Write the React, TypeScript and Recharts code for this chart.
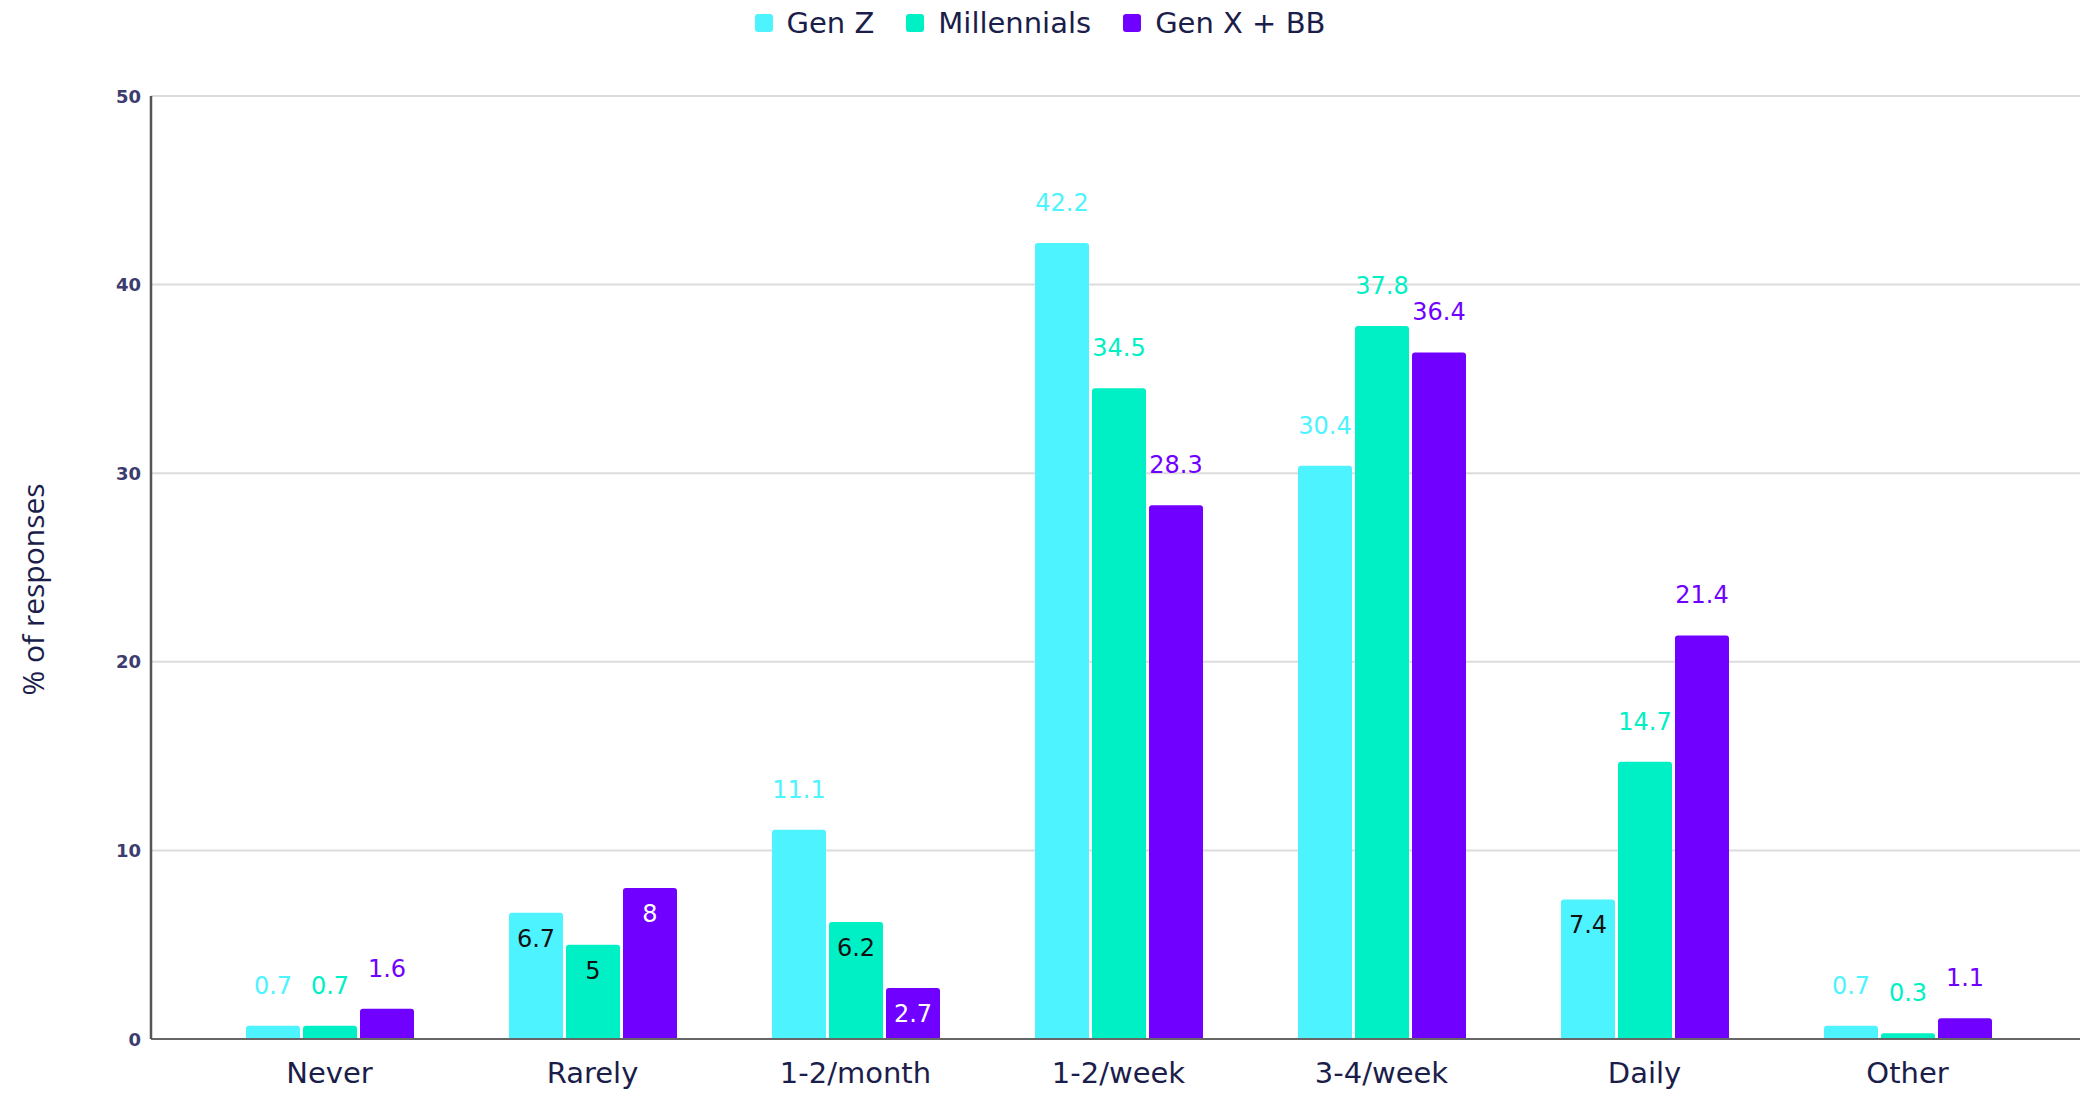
import React from 'react';
import { BarChart, Bar, XAxis, YAxis, CartesianGrid, Legend, LabelList } from 'recharts';

// Frequency categories along the x axis
const categories = ['Never', 'Rarely', '1-2/month', '1-2/week', '3-4/week', 'Daily', 'Other'];

// Share of responses (%) per generation
const genZ = [0.7, 6.7, 11.1, 42.2, 30.4, 7.4, 0.7];
const millennials = [0.7, 5, 6.2, 34.5, 37.8, 14.7, 0.3];
const genXBB = [1.6, 8, 2.7, 28.3, 36.4, 21.4, 1.1];

const yTicks = [0, 10, 20, 30, 40, 50];

const data = categories.map((category, i) => ({
  category,
  genZ: genZ[i],
  millennials: millennials[i],
  genXBB: genXBB[i],
}));

const FONT = '"DejaVu Sans", Verdana, sans-serif';
const NAVY = '#1b1d4a';

const series = [
  { key: 'genZ', name: 'Gen Z', color: '#4DF3FF', insideText: '#111111' },
  { key: 'millennials', name: 'Millennials', color: '#00F0C5', insideText: '#111111' },
  { key: 'genXBB', name: 'Gen X + BB', color: '#7000FF', insideText: '#ffffff' },
];

// Medium bars carry their value inside; very short and tall bars carry it above
const makeLabel = (color: string, insideText: string) => (props: any) => {
  const { x, y, width, value } = props;
  const inside = value >= 2 && value < 10;
  return (
    <text
      x={x + width / 2}
      y={inside ? y + 26 : y - 40}
      textAnchor="middle"
      dominantBaseline="central"
      fontFamily={FONT}
      fontSize={24}
      fill={inside ? insideText : color}
    >
      {value}
    </text>
  );
};

const XTick = (props: any) => {
  const { x, y, payload } = props;
  return (
    <text
      x={x}
      y={y + 34}
      textAnchor="middle"
      dominantBaseline="central"
      fontFamily={FONT}
      fontSize={29}
      fill={NAVY}
    >
      {payload.value}
    </text>
  );
};

const YTick = (props: any) => {
  const { x, y, payload } = props;
  return (
    <text
      x={x - 10}
      y={y}
      textAnchor="end"
      dominantBaseline="central"
      fontFamily={FONT}
      fontSize={18}
      fontWeight="bold"
      fill="#3c3c6e"
    >
      {payload.value}
    </text>
  );
};

const YLabel = (props: any) => {
  const { viewBox } = props;
  const cx = viewBox.x + 32;
  const cy = viewBox.y + viewBox.height / 2 + 22;
  return (
    <text
      x={cx}
      y={cy}
      transform={`rotate(-90, ${cx}, ${cy})`}
      textAnchor="middle"
      dominantBaseline="central"
      fontFamily='"Open Sans", sans-serif'
      fontSize={30}
      fill={NAVY}
    >
      % of responses
    </text>
  );
};

const LegendContent = () => (
  <div
    style={{
      height: 45,
      display: 'flex',
      justifyContent: 'center',
      alignItems: 'center',
      fontFamily: FONT,
      fontSize: 29,
      color: NAVY,
    }}
  >
    {series.map((s) => (
      <div key={s.key} style={{ display: 'flex', alignItems: 'center', margin: '0 16px' }}>
        <div
          style={{
            width: 18,
            height: 18,
            borderRadius: 3,
            background: s.color,
            marginRight: 14,
          }}
        />
        <span>{s.name}</span>
      </div>
    ))}
  </div>
);

export default function App() {
  return (
    <div style={{ position: 'absolute', left: 0, top: 0, width: 2080, height: 1094, background: '#fff' }}>
      <BarChart
        width={2080}
        height={1094}
        data={data}
        margin={{ top: 51, right: 0, bottom: 0, left: 0 }}
        barGap={3}
        barSize={54}
      >
        <CartesianGrid vertical={false} stroke="#dcdcdc" strokeWidth={2} />
        <Legend
          verticalAlign="top"
          content={<LegendContent />}
          wrapperStyle={{ top: 0, left: 0, width: 2080, height: 45 }}
        />
        <XAxis
          dataKey="category"
          padding={{ left: 47, right: 41 }}
          height={55}
          tickLine={false}
          tickSize={0}
          tickMargin={0}
          axisLine={{ stroke: '#666', strokeWidth: 2 }}
          tick={<XTick />}
          interval={0}
        />
        <YAxis
          width={151}
          domain={[0, 50]}
          ticks={yTicks}
          tickLine={false}
          tickSize={0}
          tickMargin={0}
          axisLine={{ stroke: '#555', strokeWidth: 2.5 }}
          tick={<YTick />}
          label={<YLabel />}
        />
        {series.map((s) => (
          <Bar
            key={s.key}
            dataKey={s.key}
            name={s.name}
            fill={s.color}
            radius={[3, 3, 0, 0]}
            isAnimationActive={false}
          >
            <LabelList dataKey={s.key} content={makeLabel(s.color, s.insideText)} />
          </Bar>
        ))}
      </BarChart>
    </div>
  );
}
